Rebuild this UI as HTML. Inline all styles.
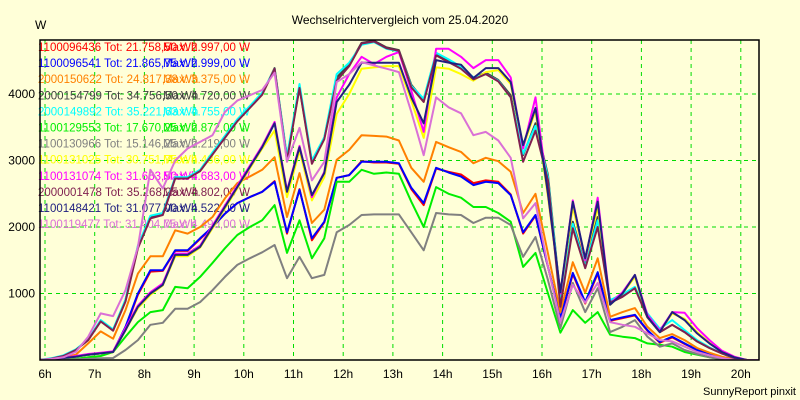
<!DOCTYPE html>
<html><head><meta charset="utf-8"><style>
html,body{margin:0;padding:0;background:#ffffd8;}
svg{display:block;font-family:"Liberation Sans",sans-serif;}
</style></head><body>
<svg id="chart" width="800" height="400" viewBox="0 0 800 400">
<rect x="0" y="0" width="800" height="400" fill="#ffffd8"/>
<text x="400" y="24" text-anchor="middle" font-size="12" fill="#000">Wechselrichtervergleich vom 25.04.2020</text>
<text x="35" y="29" font-size="12" fill="#000">W</text>
<text x="796" y="395" text-anchor="end" font-size="11" fill="#000">SunnyReport pinxit</text>
<g id="grid"></g>
<g id="legend"></g>
<g id="lines"></g>
<rect x="40" y="40" width="719" height="320" fill="none" stroke="#000" stroke-width="1.5"/>
<g id="axes"></g>
</svg>
<script>
const xTickLabels = ["6h","7h","8h","9h","10h","11h","12h","13h","14h","15h","16h","17h","18h","19h","20h"];
const yTicks = [1000,2000,3000,4000];
const startHour = 5.87;
const stepHour = 0.25;
const seriesNames = ["1100096436","1100096541","2000150622","2000154799","2000149892","1100129553","1100130966","1100131025","1100131074","2000001478","1100148421","1100119477"];
const seriesTotals = ["21.758,50","21.865,75","24.817,38","34.756,50","35.221,63","17.670,25","15.146,25","30.751,75","31.663,50","35.268,25","31.077,00","31.404,75"];
const seriesMax = ["2.997,00","2.999,00","3.375,00","4.720,00","4.755,00","2.872,00","2.219,00","4.486,00","4.683,00","4.802,00","4.522,00","4.490,00"];
const seriesColors = ["#ff0000","#0000ff","#ff8000","#404040","#00ffff","#00ee00","#808080","#ffff00","#ff00ff","#802050","#202080","#da70d6"];
const s0 = [0,10,30,50,80,100,120,480,980,1330,1340,1640,1640,1820,2000,2200,2360,2450,2530,2690,1900,2570,1800,2070,2740,2780,2990,2970,2970,2950,2570,2330,2880,2830,2790,2660,2700,2680,2490,1900,2170,1400,620,1290,850,1300,590,630,670,440,260,340,240,150,90,40,10,0,0];
const s1 = [0,10,30,50,80,100,120,500,1000,1350,1350,1650,1650,1830,2000,2200,2360,2450,2530,2680,1920,2560,1830,2080,2740,2780,2980,2980,2980,2960,2590,2360,2890,2820,2760,2630,2680,2660,2480,1920,2180,1400,630,1310,870,1320,600,640,680,450,270,350,250,150,90,40,10,0,0];
const s2 = [0,15,40,80,250,430,320,750,1300,1560,1560,1950,1900,2000,2150,2430,2660,2760,2860,3050,2150,2810,2060,2260,3010,3160,3380,3370,3360,3300,2890,2680,3280,3200,3130,2960,3040,2990,2830,2210,2500,1600,720,1470,1010,1530,650,720,780,500,330,390,300,180,110,50,10,0,0];
const s3 = [0,20,60,150,300,590,450,900,1700,2150,2200,2740,2740,2850,3100,3350,3600,3800,4000,4390,3040,4100,2980,3340,4250,4440,4770,4800,4700,4660,4140,3910,4600,4500,4400,4240,4320,4210,3980,3080,3560,2780,930,2080,1430,2150,870,970,1080,650,420,530,420,280,180,100,30,0,0];
const s4 = [0,25,70,160,310,600,460,910,1720,2170,2210,2750,2750,2860,3120,3370,3620,3820,4020,4380,3060,4150,3000,3350,4300,4470,4740,4780,4680,4640,4120,3930,4620,4520,4410,4250,4300,4200,3950,3100,3520,2750,900,2050,1400,2100,900,990,1100,700,470,600,450,300,190,100,30,0,0];
const s5 = [0,0,10,20,40,60,120,350,570,720,750,1100,1080,1250,1460,1680,1880,2000,2100,2330,1610,2100,1530,1830,2680,2680,2860,2800,2820,2800,2380,2000,2600,2500,2440,2300,2300,2210,2080,1400,1610,1000,410,750,560,720,380,350,330,250,230,200,120,80,40,10,0,0,0];
const s6 = [0,0,0,10,20,25,30,150,300,530,560,770,770,870,1050,1250,1430,1530,1620,1730,1230,1550,1230,1280,1920,2030,2180,2190,2190,2190,1920,1650,2210,2190,2180,2060,2140,2140,2030,1550,1850,1200,480,1160,720,1080,420,500,600,350,200,250,150,90,40,10,0,0,0];
const s7 = [0,10,30,50,80,100,120,450,780,980,1120,1560,1560,1690,1980,2280,2580,2880,3180,3450,2450,3150,2400,2750,3700,4000,4380,4400,4420,4420,3900,3340,4400,4380,4300,4200,4330,4360,4150,3200,3750,2450,1000,2300,1500,2300,830,1000,1250,650,430,700,620,420,260,120,40,0,0];
const s8 = [0,10,30,60,90,110,130,480,820,1020,1150,1600,1600,1720,2020,2320,2620,2920,3220,3580,2550,3220,2450,2830,3950,4300,4560,4450,4560,4630,4050,3430,4680,4680,4560,4390,4510,4510,4250,3180,3950,2500,1000,2400,1500,2440,850,1020,1280,680,440,720,710,480,300,140,50,0,0];
const s9 = [0,20,60,150,300,580,440,880,1680,2130,2180,2730,2730,2840,3090,3340,3590,3790,3990,4380,3000,4090,2950,3320,4200,4420,4760,4790,4690,4650,4100,3880,4580,4480,4380,4220,4300,4190,3950,2980,3450,2700,800,1980,1380,2000,860,950,1080,640,420,530,420,280,180,100,30,0,0];
const s10 = [0,10,30,50,80,100,120,450,800,1000,1130,1580,1580,1700,2000,2300,2600,2900,3200,3560,2530,3200,2480,2810,3880,4140,4470,4470,4470,4470,3950,3560,4510,4470,4440,4240,4390,4390,4180,3230,3790,2500,1020,2380,1530,2380,830,1000,1280,650,420,720,600,400,250,120,40,0,0];
const s11 = [0,15,40,120,350,700,660,1050,1700,2860,2580,3000,3180,3280,3380,3730,3900,3980,4060,4320,2980,3490,2700,2980,4180,4300,4480,4430,4380,4330,3730,3080,3950,3800,3710,3380,3430,3300,3040,2130,2360,1400,570,1130,860,1160,570,530,500,400,300,280,200,120,70,30,0,0,0];
const seriesValues = [s0,s1,s2,s3,s4,s5,s6,s7,s8,s9,s10,s11];

const NS = "http://www.w3.org/2000/svg";
const plotLeft = 40, plotRight = 759, plotTop = 40, plotBottom = 360;
const x6 = 45, pxPerHour = 49.7, pxPerW = 0.0665;
function xScale(h){ return x6 + (h - 6) * pxPerHour; }
function yScale(v){ return plotBottom - v * pxPerW; }
function mk(tag, attrs){ const e = document.createElementNS(NS, tag); for (const k in attrs) e.setAttribute(k, attrs[k]); return e; }

const grid = document.getElementById("grid");
const axes = document.getElementById("axes");
xTickLabels.forEach(function(lbl, i){
  const x = xScale(6 + i);
  const gl = mk("line", {x1:x, x2:x, y1:plotTop, y2:plotBottom, stroke:"#00dd00", "stroke-width":1, "stroke-dasharray":"4,4"});
  
  
  grid.appendChild(gl);
  const t = mk("text", {x:x, y:378, "text-anchor":"middle", "font-size":12, fill:"#000"});
  t.textContent = lbl;
  
  
  axes.appendChild(t);
});
yTicks.forEach(function(v){
  const y = yScale(v);
  const gl = mk("line", {x1:plotLeft, x2:plotRight, y1:y, y2:y, stroke:"#00dd00", "stroke-width":1, "stroke-dasharray":"4,4"});
  
  
  grid.appendChild(gl);
  const t = mk("text", {x:35, y:y + 4, "text-anchor":"end", "font-size":12, fill:"#000"});
  t.textContent = String(v);
  
  
  axes.appendChild(t);
});

const legend = document.getElementById("legend");
seriesNames.forEach(function(name, i){
  const y = 51 + i * 16.1;
  const c = seriesColors[i];
  const t = mk("text", {x:38, y:y, "font-size":11.5, fill:c});
  t.textContent = name + " Tot: " + seriesTotals[i] + " Wh";
  
  
  legend.appendChild(t);
  const t2 = mk("text", {x:163, y:y, "font-size":11.5, fill:c});
  t2.textContent = "Max: " + seriesMax[i] + " W";
  
  
  legend.appendChild(t2);
});

const clip = mk("clipPath", {id:"plotclip"});
clip.appendChild(mk("rect", {x:plotLeft, y:plotTop, width:plotRight-plotLeft, height:plotBottom-plotTop}));
document.getElementById("chart").insertBefore(clip, grid);
const lines = document.getElementById("lines");
lines.setAttribute("clip-path", "url(#plotclip)");
seriesValues.forEach(function(vals, i){
  const pts = vals.map(function(v, k){ return xScale(startHour + k * stepHour).toFixed(1) + "," + yScale(v).toFixed(1); }).join(" ");
  const pl = mk("polyline", {points:pts, fill:"none", stroke:seriesColors[i], "stroke-width":2, "stroke-linejoin":"round"});
  
  
  lines.appendChild(pl);
});
</script>
</body></html>
